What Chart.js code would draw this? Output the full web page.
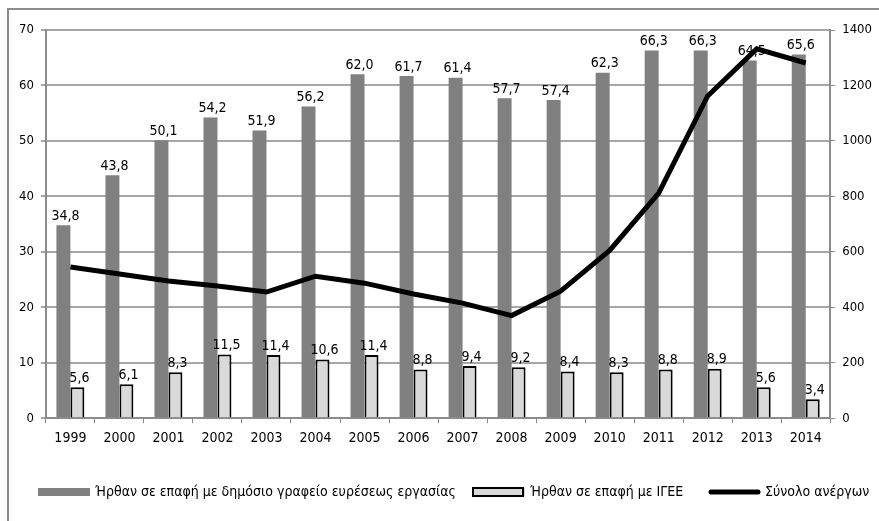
<!DOCTYPE html>
<html>
<head>
<meta charset="utf-8">
<script src="https://cdn.jsdelivr.net/npm/chart.js@4"></script>
<style>
    html, body { margin: 0; padding: 0; background: #fff; }
    #wrap { width: 879px; height: 521px; }
</style>
</head>
<body>
<div id="wrap"><canvas id="chart" width="879" height="521"></canvas></div>
<script>
const years = ['1999', '2000', '2001', '2002', '2003', '2004', '2005', '2006',
    '2007', '2008', '2009', '2010', '2011', '2012', '2013', '2014'];

// % που ήρθαν σε επαφή με δημόσιο γραφείο (αριστερός άξονας)
const publicOffice = [34.8, 43.8, 50.1, 54.2, 51.9, 56.2, 62.0, 61.7,
    61.4, 57.7, 57.4, 62.3, 66.3, 66.3, 64.5, 65.6];

// % που ήρθαν σε επαφή με ΙΓΕΕ (αριστερός άξονας)
const privateOffice = [5.6, 6.1, 8.3, 11.5, 11.4, 10.6, 11.4, 8.8,
    9.4, 9.2, 8.4, 8.3, 8.8, 8.9, 5.6, 3.4];

// Σύνολο ανέργων σε χιλιάδες (δεξιός άξονας), εκτίμηση από το γράφημα
const unemployed = [545, 520, 495, 477, 455, 512, 487, 448,
    415, 370, 458, 605, 812, 1162, 1332, 1281];

const labelNames = [
    'Ήρθαν σε επαφή με δημόσιο γραφείο ευρέσεως εργασίας',
    'Ήρθαν σε επαφή με ΙΓΕΕ',
    'Σύνολο ανέργων'
];

const FONT = "'DejaVu Sans Condensed', 'Liberation Sans', sans-serif";
const GRID = '#a6a6a6';
const AXIS = '#8c8c8c';

// outer frame (only top and left edges are visible in the picture)
const framePlugin = {
    id: 'frame',
    beforeDraw(chart) {
        const ctx = chart.ctx;
        ctx.save();
        ctx.strokeStyle = AXIS;
        ctx.lineWidth = 2;
        ctx.beginPath();
        ctx.moveTo(8, chart.height);
        ctx.lineTo(8, 9);
        ctx.lineTo(chart.width, 9);
        ctx.stroke();
        ctx.restore();
    }
};

// value labels above the bars, with comma as decimal mark
const barLabels = {
    id: 'barLabels',
    afterDatasetsDraw(chart) {
        const ctx = chart.ctx;
        ctx.save();
        ctx.font = '14px ' + FONT;
        ctx.fillStyle = '#000';
        ctx.textAlign = 'center';
        ctx.textBaseline = 'bottom';
        [0, 1].forEach(i => {
            const meta = chart.getDatasetMeta(i);
            const data = chart.data.datasets[i].data;
            meta.data.forEach((bar, j) => {
                const txt = data[j].toFixed(1).replace('.', ',');
                ctx.fillText(txt, bar.x + 2, bar.y - 2);
            });
        });
        ctx.restore();
    }
};

// legend in one row, spaced like the original
const legendStarts = [38, 473, 708];
const oneRowLegend = {
    id: 'oneRowLegend',
    afterDraw(chart) {
        const ctx = chart.ctx;
        const y = 492;
        ctx.save();
        ctx.font = '14px ' + FONT;
        ctx.textBaseline = 'middle';
        ctx.textAlign = 'left';
        chart.data.datasets.forEach((ds, i) => {
            const x = legendStarts[i];
            if (ds.type === 'line') {
                ctx.strokeStyle = ds.borderColor;
                ctx.lineWidth = 5;
                ctx.lineCap = 'round';
                ctx.beginPath();
                ctx.moveTo(x + 3, y);
                ctx.lineTo(x + 50, y);
                ctx.stroke();
            } else {
                ctx.fillStyle = ds.backgroundColor;
                ctx.fillRect(x, y - 4, 52, 8);
                if (ds.borderWidth) {
                    ctx.strokeStyle = ds.borderColor;
                    ctx.lineWidth = 2;
                    ctx.strokeRect(x, y - 4, 50, 8);
                }
            }
            ctx.fillStyle = '#000';
            ctx.fillText(ds.label, x + 57, y);
        });
        ctx.restore();
    }
};

const ctx = document.getElementById('chart').getContext('2d');
new Chart(ctx, {
    data: {
        labels: years,
        datasets: [{
            type: 'bar',
            label: labelNames[0],
            data: publicOffice,
            backgroundColor: '#808080',
            borderWidth: 0,
            yAxisID: 'y',
            order: 1,
            categoryPercentage: 0.57,
            barPercentage: 1
        }, {
            type: 'bar',
            label: labelNames[1],
            data: privateOffice,
            backgroundColor: '#d9d9d9',
            borderColor: '#000',
            borderWidth: 2,
            yAxisID: 'y',
            order: 1,
            categoryPercentage: 0.57,
            barPercentage: 1
        }, {
            type: 'line',
            label: labelNames[2],
            data: unemployed,
            borderColor: '#000',
            backgroundColor: '#000',
            borderWidth: 5,
            pointRadius: 0,
            tension: 0,
            yAxisID: 'y1',
            order: 0
        }]
    },
    options: {
        responsive: false,
        animation: false,
        layout: { padding: { left: 12, right: 0, top: 30, bottom: 67 } },
        plugins: {
            tooltip: { enabled: false },
            legend: { display: false }
        },
        scales: {
            x: {
                offset: true,
                grid: {
                    display: true,
                    drawOnChartArea: false,
                    drawTicks: true,
                    tickLength: 5,
                    color: AXIS,
                    offset: true
                },
                border: { color: AXIS, width: 2 },
                ticks: { font: { family: FONT, size: 14 }, color: '#000', padding: 7 }
            },
            y: {
                position: 'left',
                min: 0,
                max: 70,
                ticks: { stepSize: 10, font: { family: FONT, size: 13 }, color: '#000', padding: 7 },
                grid: { color: GRID, lineWidth: 2, tickLength: 5 },
                border: { color: AXIS, width: 2 }
            },
            y1: {
                position: 'right',
                min: 0,
                max: 1400,
                ticks: {
                    stepSize: 200,
                    font: { family: FONT, size: 13 },
                    color: '#000',
                    padding: 7,
                    callback: v => String(v)
                },
                grid: { drawOnChartArea: false, color: AXIS, tickLength: 5 },
                border: { color: AXIS, width: 2 }
            }
        }
    },
    plugins: [framePlugin, barLabels, oneRowLegend]
});
</script>
</body>
</html>
